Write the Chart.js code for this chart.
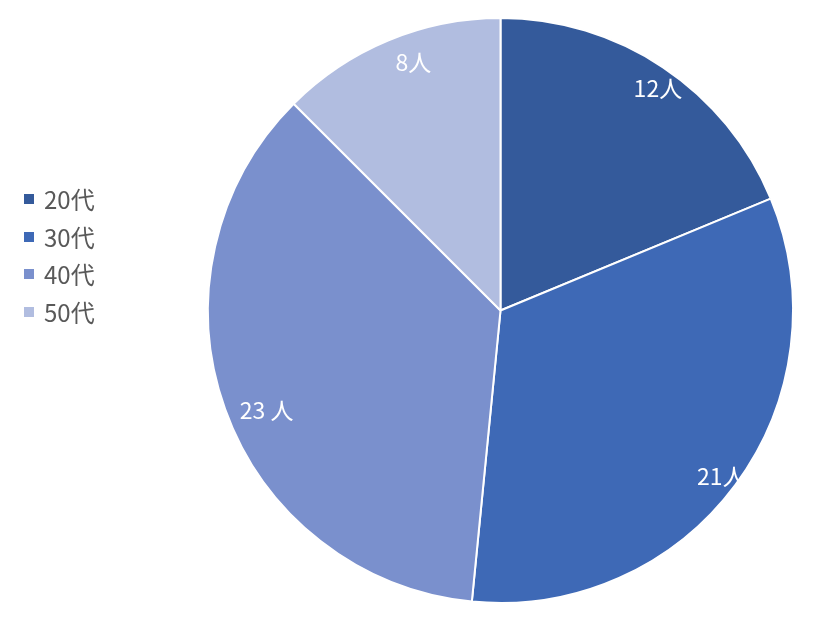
<!DOCTYPE html>
<html>
<head>
<meta charset="utf-8">
<script src="https://cdn.jsdelivr.net/npm/chart.js@4"></script>
<style>
html,body{margin:0;padding:0;background:#fff;}
#wrap{position:relative;width:819px;height:621px;}
#legend{position:absolute;left:24px;top:180px;font-family:"Noto Sans CJK JP","Noto Sans",sans-serif;font-size:24px;color:#595959;}
#legend .item{height:37.7px;display:flex;align-items:center;white-space:nowrap;line-height:1;}
#legend .sw{width:10px;height:10px;margin-right:10px;display:inline-block;}
</style>
</head>
<body>
<div id="wrap">
<canvas id="c" width="819" height="621"></canvas>
<div id="legend"></div>
</div>
<script>
const categories = ["20代", "30代", "40代", "50代"];
const values = [12, 21, 23, 8];
const dataLabels = ["12人", "21人", "23 人", "8人"];
const colors = ["#345A9B", "#3E69B6", "#7A90CD", "#B1BDE0"];

// label placement tweaks (fraction of radius, angle offset in degrees)
const labelPlace = [
  {r: 0.93, da: 1.6},
  {r: 0.945, da: 0.4},
  {r: 0.87, da: -3.5},
  {r: 0.90, da: 3.2}
];

const legendEl = document.getElementById('legend');
categories.forEach((c, i) => {
  const d = document.createElement('div');
  d.className = 'item';
  d.innerHTML = '<span class="sw" style="background:' + colors[i] + '"></span><span>' + c + '</span>';
  legendEl.appendChild(d);
});

const labelPlugin = {
  id: 'sliceLabels',
  afterDatasetsDraw(chart) {
    const ctx = chart.ctx;
    const meta = chart.getDatasetMeta(0);
    ctx.save();
    ctx.font = '23px "Noto Sans CJK JP", "Noto Sans", sans-serif';
    ctx.fillStyle = '#ffffff';
    ctx.textAlign = 'center';
    ctx.textBaseline = 'middle';
    meta.data.forEach((arc, i) => {
      const p = arc.getProps(['x', 'y', 'startAngle', 'endAngle', 'outerRadius'], true);
      const mid = (p.startAngle + p.endAngle) / 2 + labelPlace[i].da * Math.PI / 180;
      const r = p.outerRadius * labelPlace[i].r;
      ctx.fillText(dataLabels[i], p.x + Math.cos(mid) * r, p.y + Math.sin(mid) * r);
    });
    ctx.restore();
  }
};

new Chart(document.getElementById('c'), {
  type: 'pie',
  data: {
    labels: categories,
    datasets: [{
      data: values,
      backgroundColor: colors,
      borderColor: '#ffffff',
      borderWidth: 2
    }]
  },
  options: {
    responsive: false,
    animation: false,
    layout: {padding: {left: 182, right: 0, top: 17, bottom: 17}},
    plugins: {
      legend: {display: false},
      tooltip: {enabled: false}
    }
  },
  plugins: [labelPlugin]
});
</script>
</body>
</html>
